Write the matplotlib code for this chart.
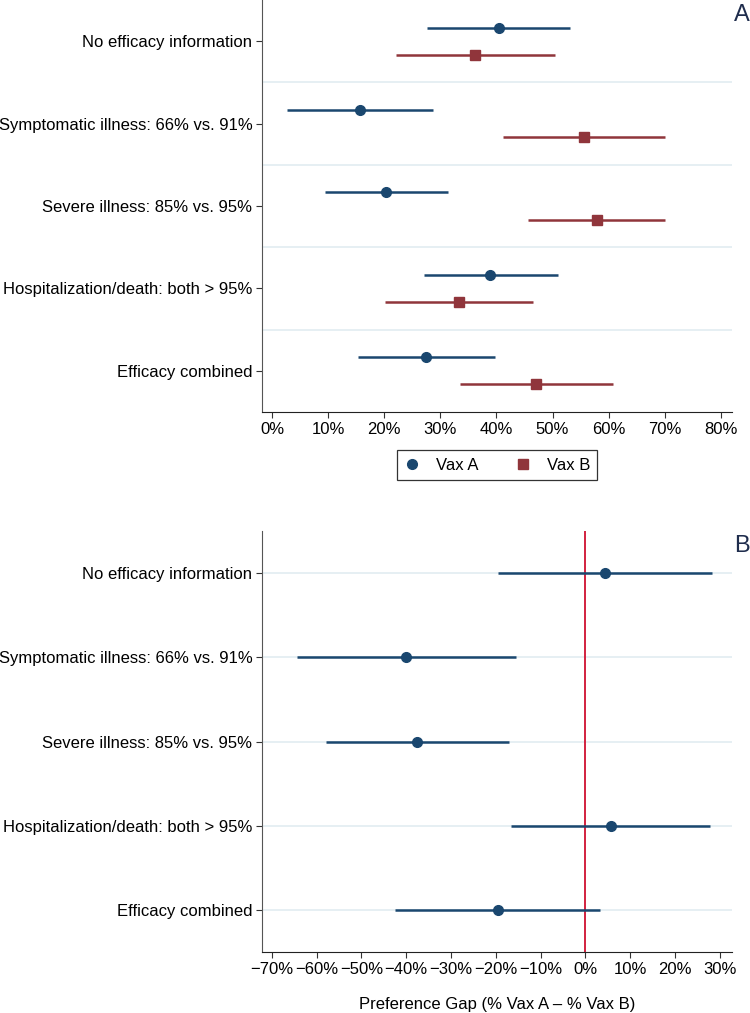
import numpy as np
import matplotlib.pyplot as plt
from matplotlib.ticker import FuncFormatter

plt.rcParams['font.family'] = ['Liberation Sans', 'DejaVu Sans']

categories = ["No efficacy information",
              "Symptomatic illness: 66% vs. 91%",
              "Severe illness: 85% vs. 95%",
              "Hospitalization/death: both > 95%",
              "Efficacy combined"]

# Panel A: share choosing each vaccine (%)
vax_a = [40.5, 15.6, 20.3, 38.9, 27.5]
vax_a_lo = [27.7, 2.6, 9.5, 27.1, 15.3]
vax_a_hi = [53.2, 28.7, 31.3, 50.9, 39.7]
vax_b = [36.2, 55.6, 57.9, 33.4, 47.1]
vax_b_lo = [22.1, 41.2, 45.7, 20.2, 33.5]
vax_b_hi = [50.4, 70.1, 70.0, 46.6, 60.7]

# Panel B: preference gap (%)
gap = [4.3, -40.0, -37.5, 5.6, -19.6]
gap_lo = [-19.5, -64.3, -57.8, -16.7, -42.4]
gap_hi = [28.2, -15.6, -17.1, 27.9, 3.3]

BLUE = "#1a476f"
RED = "#90353b"
GRID = "#e4eef2"
ZERO = "#d2213f"
FS = 12

fig = plt.figure(figsize=(7.5, 10.13), dpi=100)
ax1 = fig.add_axes([0.3493, 0.5933, 0.6267, 0.4067])
ax2 = fig.add_axes([0.3493, 0.0602, 0.6267, 0.4156])

pos = np.arange(len(categories))
off = 0.165
pct = FuncFormatter(lambda v, _: f"{v:.0f}%".replace("-", "\u2212"))


def style(ax):
    for s in ["top", "right"]:
        ax.spines[s].set_visible(False)
    ax.spines["left"].set_color("#555555")
    ax.spines["bottom"].set_color("#222222")
    ax.set_yticks(pos)
    ax.set_yticklabels(categories, fontsize=FS)
    ax.set_ylim(len(categories) - 0.5, -0.5)
    ax.tick_params(axis="both", labelsize=FS, length=4, color="#333333")
    ax.tick_params(axis="y", pad=3)
    ax.xaxis.set_major_formatter(pct)


# Panel A
style(ax1)
for y in pos[:-1] + 0.5:
    ax1.axhline(y, color=GRID, lw=1.3, zorder=0)
ax1.hlines(pos - off, vax_a_lo, vax_a_hi, color=BLUE, lw=1.8)
ax1.plot(vax_a, pos - off, "o", color=BLUE, ms=7, label="Vax A")
ax1.hlines(pos + off, vax_b_lo, vax_b_hi, color=RED, lw=1.8)
ax1.plot(vax_b, pos + off, "s", color=RED, ms=7, label="Vax B")
ax1.set_xlim(-1.8, 82)
ax1.set_xticks(np.arange(0, 81, 10))
ax1.text(1.005, 0.99, "A", transform=ax1.transAxes, fontsize=17,
         color="#1f2d4d", ha="left", va="top")
leg = ax1.legend(loc="upper center", bbox_to_anchor=(0.5, -0.093), ncol=2,
                 frameon=True, fancybox=False, fontsize=FS, handletextpad=0.9,
                 columnspacing=2.2, borderpad=0.45, handlelength=1.0,
                 borderaxespad=0)
leg.get_frame().set_edgecolor("black")
leg.get_frame().set_linewidth(0.9)

# Panel B
style(ax2)
for y in pos:
    ax2.axhline(y, color=GRID, lw=1.3, zorder=0)
ax2.axvline(0, color=ZERO, lw=1.4, zorder=1)
ax2.hlines(pos, gap_lo, gap_hi, color=BLUE, lw=1.8, zorder=2)
ax2.plot(gap, pos, "o", color=BLUE, ms=7, zorder=3)
ax2.set_xlim(-72.2, 32.7)
ax2.set_xticks(np.arange(-70, 31, 10))
ax2.set_xlabel("Preference Gap (% Vax A \u2013 % Vax B)", fontsize=FS, labelpad=14)
ax2.text(1.005, 0.99, "B", transform=ax2.transAxes, fontsize=17,
         color="#1f2d4d", ha="left", va="top")

fig.savefig("out.png", dpi=100)
